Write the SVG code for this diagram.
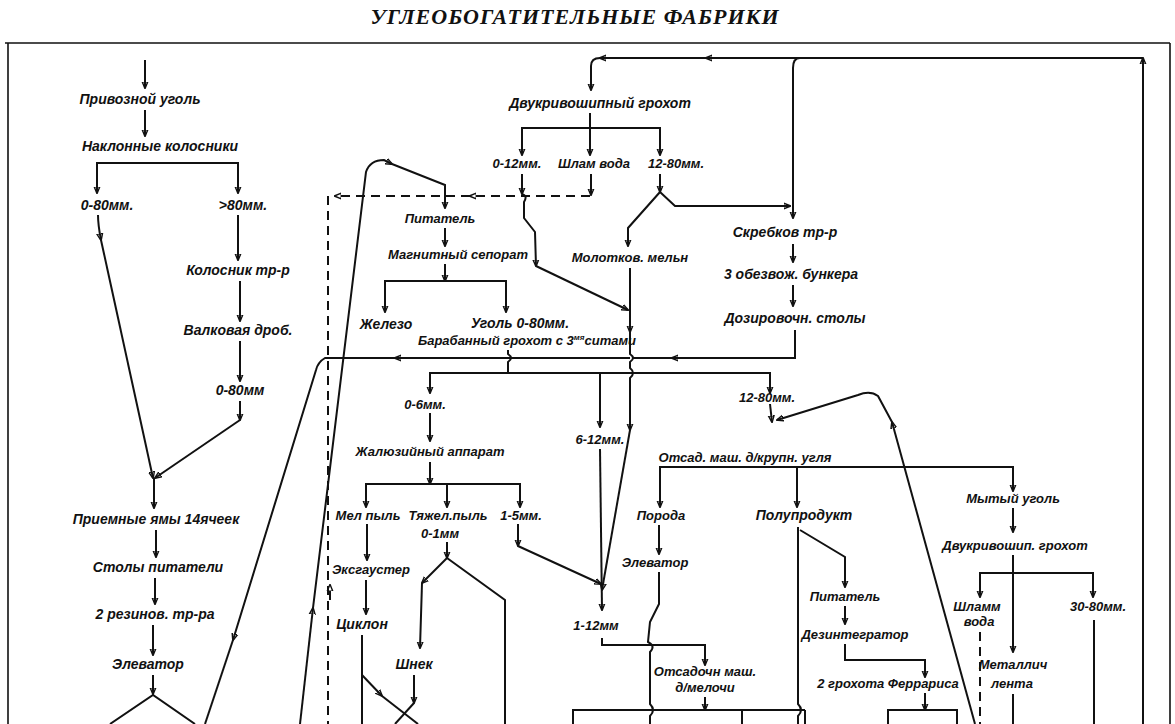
<svg xmlns="http://www.w3.org/2000/svg" width="1175" height="724" viewBox="0 0 1175 724">
<defs>
<marker id="a" viewBox="0 0 10 10" refX="9" refY="5" markerWidth="7" markerHeight="9" orient="auto" markerUnits="userSpaceOnUse"><path d="M0,1 L10,5 L0,9 Z" fill="#111"/></marker>
</defs>
<style>
text{font-family:"Liberation Sans",Arial,sans-serif;font-style:italic;font-weight:bold;font-size:14px;fill:#111;text-anchor:middle}
.t{font-family:"Liberation Serif","Times New Roman",serif;font-size:22px;letter-spacing:1px}
.s{font-size:13px}
path,line,polyline{stroke:#111;stroke-width:2;fill:none}
.d{stroke-dasharray:9 6}
.b{stroke-width:1.6}
</style>
<rect width="1175" height="724" fill="#fff"/>
<text class="t" x="575" y="24">УГЛЕОБОГАТИТЕЛЬНЫЕ ФАБРИКИ</text>
<g id="frame"><path class="b" d="M5,43 H1170 M8,43 V724 M1170,43 V724"/></g>

<g id="nodes">
<g id="n1"><text x="140" y="104">Привозной уголь</text></g>
<g id="n2"><text x="160" y="151">Наклонные колосники</text></g>
<g id="n3"><text x="107" y="210">0-80мм.</text></g>
<g id="n4"><text x="243" y="210">&gt;80мм.</text></g>
<g id="n5"><text x="238" y="275">Колосник тр-р</text></g>
<g id="n6"><text x="238" y="335">Валковая дроб.</text></g>
<g id="n7"><text x="240" y="395">0-80мм</text></g>
<g id="n8"><text x="156" y="524">Приемные ямы 14ячеек</text></g>
<g id="n9"><text x="158" y="572">Столы питатели</text></g>
<g id="n10"><text x="155" y="619">2 резинов. тр-ра</text></g>
<g id="n11"><text x="148" y="669">Элеватор</text></g>
<g id="n12"><text x="600" y="108">Двукривошипный грохот</text></g>
<g id="n13"><text class="s" x="517" y="168">0-12мм.</text></g>
<g id="n14"><text class="s" x="594" y="168">Шлам вода</text></g>
<g id="n15"><text class="s" x="676" y="168">12-80мм.</text></g>
<g id="n16"><text class="s" x="440" y="223">Питатель</text></g>
<g id="n17"><text class="s" x="458" y="259">Магнитный сепорат</text></g>
<g id="n18"><text x="386" y="329">Железо</text></g>
<g id="n19"><text x="520" y="328">Уголь 0-80мм.</text></g>
<g id="n20"><text class="s" x="527" y="345">Барабанный грохот с 3<tspan font-size="8" dy="-5">мя</tspan><tspan dy="5">ситами</tspan></text></g>
<g id="n21"><text class="s" x="630" y="262">Молотков. мельн</text></g>
<g id="n22"><text x="785" y="237">Скребков тр-р</text></g>
<g id="n23"><text x="791" y="279">3 обезвож. бункера</text></g>
<g id="n24"><text x="795" y="323">Дозировочн. столы</text></g>
<g id="n25"><text class="s" x="425" y="409">0-6мм.</text></g>
<g id="n26"><text class="s" x="430" y="456">Жалюзийный аппарат</text></g>
<g id="n27"><text class="s" x="600" y="444">6-12мм.</text></g>
<g id="n28"><text class="s" x="767" y="402">12-80мм.</text></g>
<g id="n29"><text class="s" x="368" y="520">Мел пыль</text></g>
<g id="n30"><text class="s" x="448" y="520">Тяжел.пыль</text><text class="s" x="440" y="538">0-1мм</text></g>
<g id="n31"><text class="s" x="521" y="520">1-5мм.</text></g>
<g id="n32"><text class="s" x="371" y="574">Эксгаустер</text></g>
<g id="n33"><text x="362" y="629">Циклон</text></g>
<g id="n34"><text x="414" y="669">Шнек</text></g>
<g id="n35"><text class="s" x="596" y="630">1-12мм</text></g>
<g id="n36"><text class="s" x="705" y="676">Отсадочн маш.</text><text class="s" x="705" y="692">д/мелочи</text></g>
<g id="n37"><text class="s" x="745" y="462">Отсад. маш. д/крупн. угля</text></g>
<g id="n38"><text class="s" x="661" y="520">Порода</text></g>
<g id="n39"><text class="s" x="655" y="567">Элеватор</text></g>
<g id="n40"><text x="804" y="520">Полупродукт</text></g>
<g id="n41"><text class="s" x="845" y="601">Питатель</text></g>
<g id="n42"><text class="s" x="855" y="639">Дезинтегратор</text></g>
<g id="n43"><text class="s" x="888" y="688">2 грохота Феррариса</text></g>
<g id="n44"><text class="s" x="1013" y="503">Мытый уголь</text></g>
<g id="n45"><text class="s" x="1015" y="550">Двукривошип. грохот</text></g>
<g id="n46"><text class="s" x="977" y="611">Шламм</text><text class="s" x="979" y="626">вода</text></g>
<g id="n47"><text class="s" x="1098" y="611">30-80мм.</text></g>
<g id="n48"><text class="s" x="1013" y="669">Металлич</text><text class="s" x="1012" y="688">лента</text></g>
</g>

<g id="connectors">
<line x1="145" y1="60" x2="145" y2="88" marker-end="url(#a)"/>
<line x1="145" y1="110" x2="145" y2="136" marker-end="url(#a)"/>
<polyline points="97,193 97,163 238,163 238,193" />
<line x1="97" y1="175" x2="97" y2="193" marker-end="url(#a)"/>
<line x1="238" y1="175" x2="238" y2="193" marker-end="url(#a)"/>
<line x1="238" y1="215" x2="238" y2="260" marker-end="url(#a)"/>
<line x1="240" y1="281" x2="240" y2="321" marker-end="url(#a)"/>
<line x1="240" y1="341" x2="240" y2="381" marker-end="url(#a)"/>
<path d="M98,215 Q98,225 101,240" marker-end="url(#a)"/>
<path d="M101,240 L153,478" marker-end="url(#a)"/>
<line x1="240" y1="401" x2="240" y2="420" marker-end="url(#a)"/>
<line x1="240" y1="420" x2="155" y2="478" marker-end="url(#a)"/>
<line x1="154" y1="478" x2="154" y2="508" marker-end="url(#a)"/>
<line x1="156" y1="530" x2="156" y2="557" marker-end="url(#a)"/>
<line x1="155" y1="578" x2="155" y2="604" marker-end="url(#a)"/>
<line x1="153" y1="625" x2="153" y2="655" marker-end="url(#a)"/>
<line x1="153" y1="675" x2="153" y2="694" marker-end="url(#a)"/>
<polyline points="110,724 153,695 195,724"/>
<path d="M630,358 L395,358" marker-end="url(#a)"/>
<path d="M395,358 L325,358 Q318,362 316,370 L233,640" marker-end="url(#a)"/>
<path d="M233,640 L205,724"/>
<path d="M300,724 L313,608" marker-end="url(#a)"/>
<path d="M313,608 L366,172 Q370,160 384,160 L392,164" marker-end="url(#a)"/>
<path d="M392,164 L445,185 L445,208" marker-end="url(#a)"/>
<path class="d" d="M590,196 L470,196" marker-end="url(#a)"/>
<path class="d" d="M470,196 L335,196" marker-end="url(#a)"/>
<path class="d" d="M328,196 V724"/>
<line class="d" x1="330" y1="600" x2="330" y2="585" marker-end="url(#a)"/>
<path d="M1143,724 V58" marker-end="url(#a)"/>
<path d="M1143,58 L706,58" marker-end="url(#a)"/>
<path d="M706,58 L600,58" marker-end="url(#a)"/>
<path d="M600,58 Q591,58 591,66 L591,90" marker-end="url(#a)"/>
<path d="M800,58 Q793,58 793,68 L793,218" marker-end="url(#a)"/>
<line x1="590" y1="113" x2="590" y2="155" marker-end="url(#a)"/>
<polyline points="522,155 522,128 660,128 660,155"/>
<line x1="522" y1="135" x2="522" y2="155" marker-end="url(#a)"/>
<line x1="660" y1="135" x2="660" y2="155" marker-end="url(#a)"/>
<line x1="522" y1="174" x2="522" y2="194" marker-end="url(#a)"/>
<path d="M522,194 Q528,196 524,202 L524,218 L535,232 L536,266" marker-end="url(#a)"/>
<path d="M536,266 L628,310" marker-end="url(#a)"/>
<line x1="591" y1="174" x2="591" y2="195" marker-end="url(#a)"/>
<line x1="660" y1="174" x2="660" y2="192" marker-end="url(#a)"/>
<path d="M660,192 L628,228 L628,246" marker-end="url(#a)"/>
<path d="M660,192 L675,206 L790,206" marker-end="url(#a)"/>
<path d="M630,268 L630,332" marker-end="url(#a)"/>
<path d="M630,332 L630,354 Q636,358 630,362 L630,368 Q636,373 630,378 L630,430" marker-end="url(#a)"/>
<path d="M630,430 L602,590" marker-end="url(#a)"/>
<line x1="793" y1="244" x2="793" y2="262" marker-end="url(#a)"/>
<line x1="793" y1="285" x2="793" y2="306" marker-end="url(#a)"/>
<path d="M795,330 L795,358 L672,358" marker-end="url(#a)"/>
<path d="M672,358 L632,358"/>
<line x1="445" y1="228" x2="445" y2="246" marker-end="url(#a)"/>
<line x1="445" y1="264" x2="445" y2="281" marker-end="url(#a)"/>
<polyline points="385,312 385,281 506,281 506,312"/>
<line x1="385" y1="290" x2="385" y2="312" marker-end="url(#a)"/>
<line x1="506" y1="290" x2="506" y2="312" marker-end="url(#a)"/>
<path d="M508,350 L508,354 Q514,358 508,362 L508,373"/>
<path d="M430,392 L430,373 L770,373 L770,392"/>
<line x1="430" y1="380" x2="430" y2="393" marker-end="url(#a)"/>
<line x1="770" y1="380" x2="770" y2="393" marker-end="url(#a)"/>
<line x1="600" y1="373" x2="600" y2="427" marker-end="url(#a)"/>
<line x1="600" y1="449" x2="602" y2="610" marker-end="url(#a)"/>
<line x1="430" y1="413" x2="430" y2="441" marker-end="url(#a)"/>
<line x1="430" y1="462" x2="430" y2="484" marker-end="url(#a)"/>
<polyline points="366,507 366,484 520,484 520,507"/>
<line x1="366" y1="490" x2="366" y2="507" marker-end="url(#a)"/>
<line x1="447" y1="484" x2="447" y2="507" marker-end="url(#a)"/>
<line x1="520" y1="490" x2="520" y2="507" marker-end="url(#a)"/>
<line x1="518" y1="524" x2="518" y2="546" marker-end="url(#a)"/>
<path d="M518,546 L601,584" marker-end="url(#a)"/>
<line x1="367" y1="524" x2="367" y2="560" marker-end="url(#a)"/>
<line x1="366" y1="580" x2="366" y2="614" marker-end="url(#a)"/>
<path d="M362,635 V724"/>
<path d="M362,675 L382,696" marker-end="url(#a)"/>
<path d="M382,696 L418,724"/>
<line x1="447" y1="542" x2="447" y2="558" marker-end="url(#a)"/>
<path d="M447,558 L422,583" marker-end="url(#a)"/>
<path d="M422,583 L420,648" marker-end="url(#a)"/>
<path d="M447,558 L505,600 L505,724"/>
<line x1="414" y1="675" x2="414" y2="703" marker-end="url(#a)"/>
<path d="M414,703 L395,724"/>
<path d="M602,638 L602,645 L705,645 L705,665" marker-end="url(#a)"/>
<line x1="705" y1="697" x2="705" y2="710" marker-end="url(#a)"/>
<path d="M975,724 L892,422" marker-end="url(#a)"/>
<path d="M892,422 L878,396 Q870,390 858,395 L777,420" marker-end="url(#a)"/>
<line x1="770" y1="404" x2="772" y2="422" marker-end="url(#a)"/>
<path d="M660,507 L660,467 L1013,467 L1013,491"/>
<line x1="660" y1="480" x2="660" y2="507" marker-end="url(#a)"/>
<line x1="797" y1="467" x2="797" y2="507" marker-end="url(#a)"/>
<line x1="1013" y1="474" x2="1013" y2="491" marker-end="url(#a)"/>
<line x1="659" y1="525" x2="659" y2="554" marker-end="url(#a)"/>
<path d="M659,572 L659,604 L650,622 L648,642 Q656,646 650,652 L650,704 Q656,710 650,716 L650,724"/>
<path d="M798,527 L798,704 Q804,710 798,716 L798,724"/>
<path d="M800,530 L845,557 L845,587" marker-end="url(#a)"/>
<line x1="845" y1="606" x2="845" y2="624" marker-end="url(#a)"/>
<path d="M845,644 L845,660 L925,660 L925,677" marker-end="url(#a)"/>
<line x1="925" y1="693" x2="925" y2="710" marker-end="url(#a)"/>
<line x1="1013" y1="508" x2="1013" y2="532" marker-end="url(#a)"/>
<path d="M980,597 L980,573 L1093,573 L1093,597"/>
<line x1="980" y1="580" x2="980" y2="597" marker-end="url(#a)"/>
<line x1="1093" y1="580" x2="1093" y2="597" marker-end="url(#a)"/>
<line x1="1013" y1="555" x2="1013" y2="652" marker-end="url(#a)"/>
<path d="M1013,694 V724"/>
<path d="M1094,620 V724"/>
<path class="d" d="M980,632 V724"/>
<path d="M573,724 V710 H805 M742,710 V724 M805,710 V724"/>
<path d="M888,724 V710 H957 V724"/>
</g>
</svg>
